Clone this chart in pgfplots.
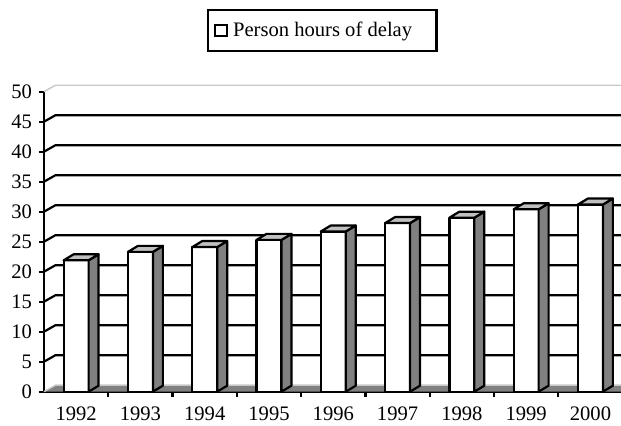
\documentclass[border=0pt]{standalone}
\usepackage{pgfplots}
\pgfplotsset{compat=1.18}
\usepackage{fontspec}
\setmainfont{Liberation Serif}
\definecolor{sidegray}{HTML}{808080}
\definecolor{topgray}{HTML}{C0C0C0}
\definecolor{wallgray}{HTML}{C8C8C8}
% depth offsets (axis units)
\def\wdx{0.179}\def\wdy{1.083}
\def\bdx{0.155}\def\bdy{1.0}
\def\bhw{0.194}
\newcommand{\tdbar}[2]{%
  \pgfmathsetmacro\xa{#1-\bhw}%
  \pgfmathsetmacro\xb{#1+\bhw}%
  \pgfmathsetmacro\xc{#1+\bhw+\bdx}%
  \pgfmathsetmacro\xd{#1-\bhw+\bdx}%
  \pgfmathsetmacro\yt{#2+\bdy}%
  \addplot[fill=white, draw=black, line width=1.1pt, line join=round, forget plot] coordinates {(\xa,0) (\xb,0) (\xb,#2) (\xa,#2)} -- cycle;
  \addplot[fill=sidegray, draw=black, line width=1.1pt, line join=round, forget plot] coordinates {(\xb,0) (\xc,\bdy) (\xc,\yt) (\xb,#2)} -- cycle;
  \addplot[fill=topgray, draw=black, line width=1.1pt, line join=round, forget plot] coordinates {(\xa,#2) (\xb,#2) (\xc,\yt) (\xd,\yt)} -- cycle;
}
\newcommand{\gline}[1]{%
  \pgfmathsetmacro\gy{#1+\wdy}%
  \pgfmathsetmacro\gx{-0.5+\wdx}%
  \addplot[black, line width=1.1pt, forget plot] coordinates {(-0.5,#1) (\gx,\gy) (8.6,\gy)};
}
\begin{document}
\begin{tikzpicture}
\useasboundingbox (-22pt,-17.15pt) rectangle (288.5pt,195.85pt);
\begin{axis}[
  at={(0pt,0pt)}, anchor=south west,
  scale only axis, width=289.3pt, height=150pt,
  xmin=-0.5, xmax=8.5, ymin=0, ymax=50,
  clip=false,
  axis x line*=bottom, axis y line*=left,
  axis line style={line width=1.1pt, black},
  ytick={0,5,...,50},
  xtick={0.5,1.5,...,7.5}, xticklabels={},
  extra x ticks={0,1,2,3,4,5,6,7,8},
  extra x tick labels={1992,1993,1994,1995,1996,1997,1998,1999,2000},
  extra x tick style={major tick length=0pt},
  tick style={line width=1.1pt, black},
  tick align=outside,
  major tick length=2.5pt,
  ticklabel style={font=\fontsize{10.3}{12}\selectfont},
  xticklabel style={yshift=-4pt},
  /pgf/number format/assume math mode=true,
  legend style={at={(0.481,1.204)}, anchor=center, draw=black, line width=1.1pt,
    font=\fontsize{10.3}{12}\selectfont, inner xsep=3.2pt, inner ysep=4pt},
  legend cell align=left,
]
% back wall top and side diagonals
\pgfmathsetmacro\gx{-0.5+\wdx}
\addplot[wallgray, line width=0.7pt, forget plot] coordinates {(-0.5,50) (\gx,51.083) (8.6,51.083)};
% grid lines
\gline{5}\gline{10}\gline{15}\gline{20}\gline{25}\gline{30}\gline{35}\gline{40}\gline{45}
% floor
\addplot[fill=sidegray, draw=none, forget plot] coordinates {(-0.5,0) (\gx,1.083) (8.6,1.083) (8.6,0)} -- cycle;
\addplot[wallgray, line width=0.7pt, forget plot] coordinates {(-0.5,0) (\gx,1.083) (8.6,1.083)};
% bars
\tdbar{0}{21.9}
\tdbar{1}{23.3}
\tdbar{2}{24.1}
\tdbar{3}{25.3}
\tdbar{4}{26.7}
\tdbar{5}{28.1}
\tdbar{6}{29.0}
\tdbar{7}{30.4}
\tdbar{8}{31.2}
\addlegendimage{legend image code/.code={\draw[line width=1pt, fill=white] (0pt,-2.8pt) rectangle (5.6pt,2.8pt); \path (6.3pt,0pt);}}
\addlegendentry{Person hours of delay\kern7pt}
\end{axis}
\end{tikzpicture}
\end{document}
